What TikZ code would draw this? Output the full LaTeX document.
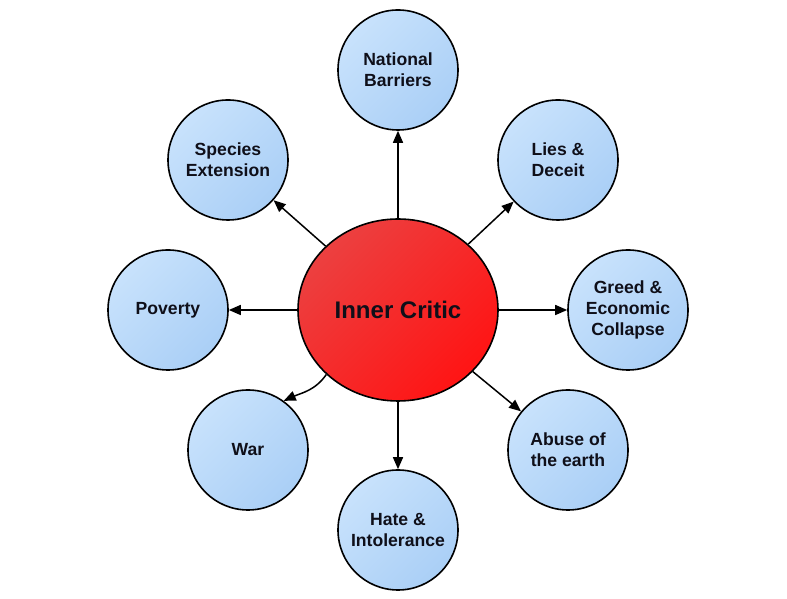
\documentclass[tikz,border=0pt]{standalone}
\usepackage{fontspec}
\setmainfont{Liberation Sans}
\usetikzlibrary{arrows.meta,shapes.geometric}

\definecolor{bluelight}{RGB}{200,226,252}
\definecolor{bluedark}{RGB}{170,207,246}
\definecolor{redlight}{RGB}{236,64,64}
\definecolor{reddark}{RGB}{255,20,20}
\definecolor{textdark}{RGB}{15,15,25}

\begin{document}
\begin{tikzpicture}
[
	x=1pt,y=1pt,
	topic/.style={circle,draw=black,line width=1.6pt,minimum size=120pt,inner sep=0pt,
		top color=bluelight,bottom color=bluedark,shading angle=45,
		align=center,text=textdark,font=\fontsize{17.6}{21}\selectfont\bfseries},
	critic/.style={ellipse,draw=black,line width=1.6pt,minimum width=200pt,minimum height=182pt,inner sep=0pt,
		top color=redlight,bottom color=reddark,shading angle=45,
		text=textdark,font=\fontsize{24}{28}\selectfont\bfseries},
	link/.style={-{Triangle[length=12pt,width=10pt]},line width=1.5pt,black}
]
	\useasboundingbox (0,0) rectangle (787,599);

	% centre
	\node[critic] (critic) at (398,289) {Inner Critic};

	% outer circles
	\node[topic] (natl) at (398,529) {National\\Barriers};
	\node[topic] (species) at (228,439) {Species\\Extension};
	\node[topic] (lies) at (558,439) {Lies \&\\Deceit};
	\node[topic] (poverty) at (168,289) {Poverty};
	\node[topic] (greed) at (628,289) {Greed \&\\Economic\\Collapse};
	\node[topic] (war) at (248,149) {War};
	\node[topic] (abuse) at (568,149) {Abuse of\\the earth};
	\node[topic] (hate) at (398,69) {Hate \&\\Intolerance};

	% arrows
	\draw[link] (critic) -- (natl);
	\draw[link] (critic) -- (species);
	\draw[link] (critic) -- (lies);
	\draw[link] (critic) -- (poverty);
	\draw[link] (critic) -- (greed);
	\draw[link] (critic.222) to[out=235,in=24] (war.54);
	\draw[link] (critic) -- (abuse);
	\draw[link] (critic) -- (hate);

\end{tikzpicture}
\end{document}
